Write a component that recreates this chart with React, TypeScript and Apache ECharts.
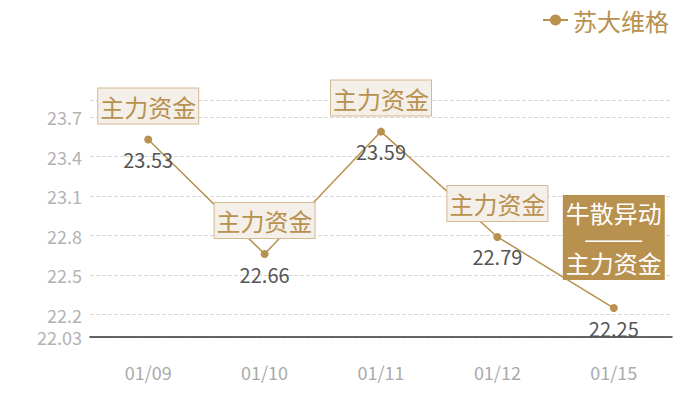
import React, { useEffect, useRef } from 'react';
import * as echarts from 'echarts';

const categories = ['01/09', '01/10', '01/11', '01/12', '01/15'];
const prices = [23.53, 22.66, 23.59, 22.79, 22.25];
const seriesName = '苏大维格';
// annotation text for each day, the last one is highlighted
const notes = ['主力资金', '主力资金', '主力资金', '主力资金', '牛散异动\n———\n主力资金'];
const highlighted = [false, false, false, false, true];
const yMin = 22.03;
const yMax = 23.83;

const GOLD = '#b8914f';
const FONT = '"Noto Sans CJK SC", "Noto Sans", sans-serif';

const App: React.FC = () => {
  const chartRef = useRef<HTMLDivElement>(null);

  useEffect(() => {
    if (!chartRef.current) return;
    const chart = echarts.init(chartRef.current, null, { renderer: 'svg' });

    const markData = categories.map((c, i) => ({
      coord: [c, prices[i]],
      value: prices[i],
      label: highlighted[i]
        ? {
            formatter: notes[i],
            color: '#fff',
            backgroundColor: GOLD,
            borderColor: GOLD,
            distance: 29,
            lineHeight: 25,
            padding: [4, 2],
          }
        : { formatter: notes[i] },
    }));

    chart.setOption({
      animation: false,
      textStyle: { fontFamily: FONT },
      legend: {
        data: [seriesName],
        right: 26,
        top: 3,
        itemWidth: 25,
        itemHeight: 14,
        itemGap: 6,
        textStyle: { color: GOLD, fontSize: 24, fontFamily: FONT },
      },
      grid: { left: 90, right: 28, top: 100, bottom: 63 },
      xAxis: {
        type: 'category',
        data: categories,
        boundaryGap: true,
        axisLine: { lineStyle: { color: '#333', width: 1.5 } },
        axisTick: { show: false },
        axisLabel: { color: '#aaa', fontSize: 18, margin: 26, fontFamily: FONT },
      },
      yAxis: {
        type: 'value',
        min: yMin,
        max: yMax,
        splitNumber: 6,
        axisLine: { show: false },
        axisTick: { show: false },
        axisLabel: { color: '#b3b3b3', fontSize: 18, margin: 8, showMaxLabel: false, fontFamily: FONT },
        splitLine: { lineStyle: { color: '#d8d8d8', type: 'dashed' } },
      },
      series: [
        {
          name: seriesName,
          type: 'line',
          data: prices,
          symbol: 'circle',
          symbolSize: 8,
          itemStyle: { color: GOLD },
          lineStyle: { color: GOLD, width: 1.5 },
          label: {
            show: true,
            position: 'bottom',
            distance: 6,
            color: '#555',
            fontSize: 20,
            fontFamily: FONT,
          },
          markPoint: {
            symbol: 'circle',
            symbolSize: 0,
            label: {
              show: true,
              position: 'top',
              distance: 16,
              color: GOLD,
              fontSize: 24,
              lineHeight: 27,
              fontFamily: FONT,
              backgroundColor: '#f4efe8',
              borderColor: '#d3ba92',
              borderWidth: 1,
              padding: [4, 2],
            },
            data: markData,
          },
        },
      ],
    });

    return () => chart.dispose();
  }, []);

  return <div ref={chartRef} style={{ width: 700, height: 400, margin: -8 }} />;
};

export default App;
